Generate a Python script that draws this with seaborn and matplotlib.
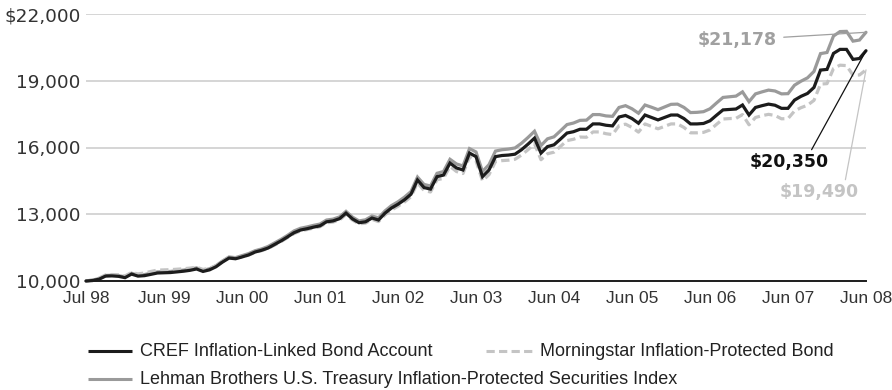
import matplotlib
matplotlib.use("Agg")
import matplotlib.pyplot as plt
import seaborn as sns
import pandas as pd
import numpy as np
from matplotlib.lines import Line2D

# ---------------- data ----------------
tick_labels = ["Jul 98", "Jun 99", "Jun 00", "Jun 01", "Jun 02", "Jun 03",
               "Jun 04", "Jun 05", "Jun 06", "Jun 07", "Jun 08"]
ytick_values = [10000, 13000, 16000, 19000, 22000]
ytick_labels = ["10,000", "13,000", "16,000", "19,000", "$22,000"]

series_names = ["CREF Inflation-Linked Bond Account",
                "Morningstar Inflation-Protected Bond",
                "Lehman Brothers U.S. Treasury Inflation-Protected Securities Index"]

cref = [10000, 10020, 10080, 10220, 10230, 10210, 10150, 10310, 10220, 10240,
        10300, 10360, 10370, 10380, 10410, 10440, 10480, 10540, 10430, 10500,
        10640, 10850, 11030, 11000, 11080, 11170, 11300, 11380, 11480, 11640,
        11800, 11980, 12170, 12290, 12350, 12420, 12480, 12660, 12700, 12800,
        13050, 12790, 12620, 12660, 12830, 12740, 13050, 13280, 13450, 13650,
        13900, 14540, 14200, 14130, 14690, 14760, 15300, 15080, 14990, 15750,
        15590, 14690, 14990, 15590, 15640, 15660, 15700, 15900, 16150, 16420,
        15750, 16040, 16120, 16380, 16650, 16710, 16820, 16820, 17060, 17060,
        17000, 16970, 17370, 17440, 17300, 17090, 17460, 17350, 17240, 17350,
        17460, 17460, 17300, 17060, 17060, 17080, 17200, 17450, 17690, 17710,
        17730, 17910, 17460, 17800, 17880, 17950, 17900, 17760, 17760, 18130,
        18300, 18430, 18700, 19480, 19510, 20230, 20410, 20410, 19960, 20000,
        20350]

morningstar = [10000, 10050, 10130, 10270, 10290, 10280, 10230, 10380, 10320, 10360,
               10430, 10490, 10500, 10510, 10530, 10550, 10580, 10620, 10520, 10570,
               10690, 10880, 11050, 11020, 11080, 11160, 11280, 11360, 11460, 11610,
               11770, 11950, 12130, 12250, 12310, 12380, 12440, 12610, 12650, 12740,
               12990, 12740, 12570, 12600, 12770, 12670, 12970, 13190, 13360, 13550,
               13790, 14410, 14070, 14000, 14550, 14610, 15150, 14920, 14830, 15580,
               15400, 14500, 14780, 15370, 15410, 15430, 15470, 15660, 15900, 16170,
               15450, 15720, 15790, 16050, 16310, 16370, 16470, 16460, 16700, 16700,
               16620, 16580, 16980, 17050, 16900, 16690, 17060, 16950, 16840, 16950,
               17060, 17060, 16900, 16660, 16660, 16680, 16790, 17040, 17280, 17300,
               17310, 17480, 17020, 17350, 17430, 17490, 17440, 17290, 17300, 17640,
               17790, 17900, 18120, 18850, 18870, 19550, 19700, 19680, 19250, 19260,
               19490]

lehman = [10000, 10040, 10110, 10250, 10260, 10240, 10190, 10350, 10260, 10290,
          10350, 10410, 10420, 10430, 10460, 10490, 10530, 10590, 10480, 10550,
          10690, 10900, 11080, 11050, 11140, 11230, 11360, 11440, 11550, 11710,
          11870, 12050, 12250, 12370, 12430, 12500, 12560, 12740, 12780, 12880,
          13130, 12870, 12700, 12750, 12920, 12840, 13150, 13390, 13560, 13770,
          14020, 14670, 14340, 14270, 14840, 14920, 15470, 15260, 15170, 15950,
          15800, 14920, 15230, 15840, 15900, 15930, 15980, 16190, 16450, 16730,
          16090, 16390, 16480, 16750, 17030, 17100, 17220, 17230, 17480, 17480,
          17420, 17400, 17800, 17880, 17740, 17540, 17910, 17810, 17700, 17820,
          17940, 17950, 17800, 17570, 17580, 17610, 17740, 18000, 18250, 18280,
          18310, 18500, 18060, 18410, 18500, 18580, 18540, 18410, 18420, 18800,
          18980, 19130, 19420, 20220, 20270, 21010, 21210, 21220, 20780, 20830,
          21178]

end_labels = ["$21,178", "$20,350", "$19,490"]

# ---------------- styling ----------------
sns.set_theme(style="white")
txt_font = ['Liberation Sans', 'DejaVu Sans']
num_font = ['DejaVu Sans']
plt.rcParams['font.family'] = txt_font

months = np.arange(len(cref))
df = pd.DataFrame({
    "month": np.concatenate([months, months, months]),
    "value": np.concatenate([lehman, morningstar, cref]),
    "series": [series_names[2]] * len(months) + [series_names[1]] * len(months)
              + [series_names[0]] * len(months),
})

c_black = "#1c1c1c"
c_gray = "#9a9a9a"
c_light = "#c4c4c4"

fig = plt.figure(figsize=(8.92, 3.90), dpi=100)
ax = fig.add_axes([86 / 892, 1 - 281 / 390, 780 / 892, 267 / 390])

lw = 2.3
sns.lineplot(data=df[df.series == series_names[2]], x="month", y="value",
             color=c_gray, lw=lw, ax=ax, legend=False)
sns.lineplot(data=df[df.series == series_names[1]], x="month", y="value",
             color=c_light, lw=lw, ax=ax, legend=False)
sns.lineplot(data=df[df.series == series_names[0]], x="month", y="value",
             color=c_black, lw=lw, ax=ax, legend=False)
ax.lines[1].set_dashes([2.6, 1.4])
for ln in ax.lines:
    ln.set_clip_on(False)
    ln.set_solid_joinstyle("miter")

ax.set_xlim(0, 120)
ax.set_ylim(10000, 22000)
ax.set_xlabel("")
ax.set_ylabel("")

ax.set_yticks(ytick_values)
ax.set_yticklabels(ytick_labels, fontsize=13.3, color="#333333", family=num_font)
ax.set_xticks(np.arange(0, 121, 12))
ax.set_xticklabels(tick_labels, fontsize=12.5, color="#333333", family=txt_font)

for v in ytick_values[1:]:
    ax.axhline(v, color="#d2d2d2", lw=1.3, zorder=0)

for s in ["top", "right", "left"]:
    ax.spines[s].set_visible(False)
ax.spines["bottom"].set_color("#1c1c1c")
ax.spines["bottom"].set_linewidth(1.4)
ax.tick_params(axis="x", direction="inout", length=8, width=1.2,
               color="#1c1c1c", pad=3)
ax.tick_params(axis="y", length=0, pad=4)

# end-value annotations
end_x = months[-1]
ax.annotate(end_labels[0], xy=(end_x, lehman[-1]), xytext=(106.2, 20830),
            color="#a0a0a0", fontsize=12.5, fontweight="bold", ha="right", va="center",
            family=num_font,
            arrowprops=dict(arrowstyle="-", color="#a0a0a0", lw=0.9,
                            shrinkA=3, shrinkB=0))
ax.annotate(end_labels[1], xy=(end_x, cref[-1]), xytext=(114.2, 15350),
            color="#111111", fontsize=12.5, fontweight="bold", ha="right", va="center",
            family=num_font,
            arrowprops=dict(arrowstyle="-", color="#111111", lw=0.9,
                            shrinkA=0, shrinkB=0, relpos=(0.76, 0.95)))
ax.annotate(end_labels[2], xy=(end_x, morningstar[-1]), xytext=(118.9, 14000),
            color="#c4c4c4", fontsize=12.5, fontweight="bold", ha="right", va="center",
            family=num_font,
            arrowprops=dict(arrowstyle="-", color="#c4c4c4", lw=0.9,
                            shrinkA=0, shrinkB=0, relpos=(0.82, 0.95)))

# legend (manual placement, in figure pixels)
W, H = 892, 390
def legend_entry(x0, y, label, color, dashes=None, length=44):
    ln = Line2D([x0 / W, (x0 + length) / W], [1 - y / H, 1 - y / H],
                transform=fig.transFigure, color=color, lw=2.2, solid_capstyle="butt")
    if dashes:
        ln.set_dashes(dashes)
    fig.add_artist(ln)
    fig.text((x0 + length + 8) / W, 1 - y / H, label, fontsize=13.0, color="#222222",
             va="center", ha="left", family=txt_font)

legend_entry(88, 351, series_names[0], c_black)
legend_entry(486, 351, series_names[1], c_light, dashes=[2.7, 1.4], length=46)
legend_entry(88, 379, series_names[2], c_gray)

fig.savefig("out.png", dpi=100)
